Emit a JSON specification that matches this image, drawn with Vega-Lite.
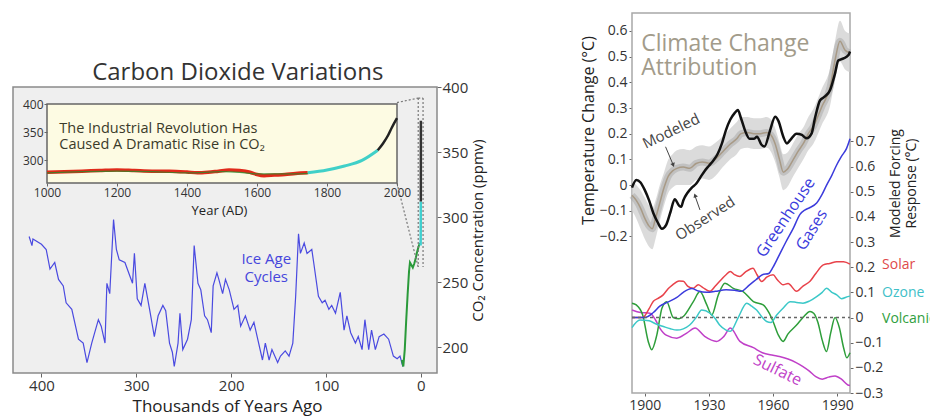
{
  "$schema": "https://vega.github.io/schema/vega-lite/v6.json",
  "width": 930,
  "height": 416,
  "autosize": {"type": "none"},
  "padding": 0,
  "background": "white",
  "config": {
    "view": {"stroke": null},
    "font": "Open Sans",
    "axis": {"grid": false, "domain": false, "labelFont": "Open Sans", "titleFont": "Open Sans", "labelColor": "#333333", "titleColor": "#222222", "tickColor": "#666666", "titleFontWeight": "normal", "labelFlush": false, "labelOverlap": false},
    "text": {"font": "Open Sans"}
  },
  "datasets": {
    "main": [
      {"s":"b","kyr":413,"ppm":285},{"s":"b","kyr":410,"ppm":278},{"s":"b","kyr":409,"ppm":283},{"s":"b","kyr":400,"ppm":279},{"s":"b","kyr":395,"ppm":275},{"s":"b","kyr":391,"ppm":260},{"s":"b","kyr":386,"ppm":265},{"s":"b","kyr":382,"ppm":252},{"s":"b","kyr":377,"ppm":247},{"s":"b","kyr":374,"ppm":234},{"s":"b","kyr":368,"ppm":229},{"s":"b","kyr":361,"ppm":206},{"s":"b","kyr":356,"ppm":203},{"s":"b","kyr":352,"ppm":188},{"s":"b","kyr":347,"ppm":203},{"s":"b","kyr":340,"ppm":221},{"s":"b","kyr":337,"ppm":216},{"s":"b","kyr":333,"ppm":203},{"s":"b","kyr":331,"ppm":249},{"s":"b","kyr":328,"ppm":241},{"s":"b","kyr":324,"ppm":298},{"s":"b","kyr":321,"ppm":275},{"s":"b","kyr":318,"ppm":267},{"s":"b","kyr":312,"ppm":265},{"s":"b","kyr":307,"ppm":255},{"s":"b","kyr":304,"ppm":249},{"s":"b","kyr":302,"ppm":272},{"s":"b","kyr":299,"ppm":237},{"s":"b","kyr":295,"ppm":232},{"s":"b","kyr":291,"ppm":249},{"s":"b","kyr":286,"ppm":229},{"s":"b","kyr":281,"ppm":208},{"s":"b","kyr":277,"ppm":224},{"s":"b","kyr":272,"ppm":232},{"s":"b","kyr":269,"ppm":228},{"s":"b","kyr":265,"ppm":203},{"s":"b","kyr":262,"ppm":196},{"s":"b","kyr":260,"ppm":185},{"s":"b","kyr":256,"ppm":203},{"s":"b","kyr":254,"ppm":226},{"s":"b","kyr":251,"ppm":198},{"s":"b","kyr":246,"ppm":206},{"s":"b","kyr":242,"ppm":221},{"s":"b","kyr":239,"ppm":278},{"s":"b","kyr":235,"ppm":249},{"s":"b","kyr":232,"ppm":244},{"s":"b","kyr":228,"ppm":224},{"s":"b","kyr":225,"ppm":221},{"s":"b","kyr":221,"ppm":211},{"s":"b","kyr":219,"ppm":247},{"s":"b","kyr":215,"ppm":257},{"s":"b","kyr":213,"ppm":252},{"s":"b","kyr":209,"ppm":241},{"s":"b","kyr":206,"ppm":252},{"s":"b","kyr":202,"ppm":244},{"s":"b","kyr":197,"ppm":229},{"s":"b","kyr":193,"ppm":232},{"s":"b","kyr":190,"ppm":216},{"s":"b","kyr":185,"ppm":224},{"s":"b","kyr":180,"ppm":213},{"s":"b","kyr":176,"ppm":219},{"s":"b","kyr":172,"ppm":206},{"s":"b","kyr":167,"ppm":190},{"s":"b","kyr":164,"ppm":203},{"s":"b","kyr":160,"ppm":190},{"s":"b","kyr":157,"ppm":198},{"s":"b","kyr":151,"ppm":188},{"s":"b","kyr":148,"ppm":193},{"s":"b","kyr":143,"ppm":197},{"s":"b","kyr":139,"ppm":193},{"s":"b","kyr":135,"ppm":203},{"s":"b","kyr":132,"ppm":239},{"s":"b","kyr":129,"ppm":287},{"s":"b","kyr":127,"ppm":272},{"s":"b","kyr":123,"ppm":280},{"s":"b","kyr":120,"ppm":272},{"s":"b","kyr":115,"ppm":275},{"s":"b","kyr":113,"ppm":265},{"s":"b","kyr":108,"ppm":239},{"s":"b","kyr":104,"ppm":234},{"s":"b","kyr":101,"ppm":236},{"s":"b","kyr":97,"ppm":229},{"s":"b","kyr":94,"ppm":232},{"s":"b","kyr":90,"ppm":226},{"s":"b","kyr":85,"ppm":242},{"s":"b","kyr":81,"ppm":213},{"s":"b","kyr":78,"ppm":224},{"s":"b","kyr":74,"ppm":211},{"s":"b","kyr":69,"ppm":203},{"s":"b","kyr":66,"ppm":208},{"s":"b","kyr":62,"ppm":198},{"s":"b","kyr":59,"ppm":221},{"s":"b","kyr":55,"ppm":198},{"s":"b","kyr":52,"ppm":213},{"s":"b","kyr":48,"ppm":198},{"s":"b","kyr":44,"ppm":208},{"s":"b","kyr":39,"ppm":210},{"s":"b","kyr":34,"ppm":206},{"s":"b","kyr":29,"ppm":193},{"s":"b","kyr":25,"ppm":191},{"s":"b","kyr":22,"ppm":193},{"s":"b","kyr":19,"ppm":185},
      {"s":"g","kyr":20,"ppm":190},{"s":"g","kyr":18.5,"ppm":185},{"s":"g","kyr":17,"ppm":198},{"s":"g","kyr":15.5,"ppm":220},{"s":"g","kyr":14,"ppm":240},{"s":"g","kyr":12.5,"ppm":258},{"s":"g","kyr":11.5,"ppm":265},{"s":"g","kyr":10,"ppm":263},{"s":"g","kyr":8.5,"ppm":261},{"s":"g","kyr":7,"ppm":264},{"s":"g","kyr":5.5,"ppm":268},{"s":"g","kyr":4,"ppm":273},{"s":"g","kyr":2.5,"ppm":277},{"s":"g","kyr":1,"ppm":280},
      {"s":"c","kyr":0.25,"ppm":278},{"s":"c","kyr":0.15,"ppm":290},{"s":"c","kyr":0.07,"ppm":312},
      {"s":"k","kyr":0.07,"ppm":312},{"s":"k","kyr":0.04,"ppm":330},{"s":"k","kyr":0.0,"ppm":374}
    ],
    "inset": [
      {"s":"g","year":1000,"ppm":278},{"s":"g","year":1100,"ppm":280},{"s":"g","year":1200,"ppm":281},{"s":"g","year":1300,"ppm":280},{"s":"g","year":1400,"ppm":278},{"s":"g","year":1500,"ppm":280},{"s":"g","year":1550,"ppm":279},{"s":"g","year":1600,"ppm":276},{"s":"g","year":1700,"ppm":276},{"s":"g","year":1750,"ppm":277},
      {"s":"r","year":1000,"ppm":279},{"s":"r","year":1050,"ppm":280},{"s":"r","year":1100,"ppm":281},{"s":"r","year":1150,"ppm":282},{"s":"r","year":1200,"ppm":283},{"s":"r","year":1250,"ppm":282},{"s":"r","year":1300,"ppm":281},{"s":"r","year":1350,"ppm":281},{"s":"r","year":1400,"ppm":279.5},{"s":"r","year":1430,"ppm":278},{"s":"r","year":1460,"ppm":279},{"s":"r","year":1490,"ppm":281},{"s":"r","year":1520,"ppm":283},{"s":"r","year":1550,"ppm":282},{"s":"r","year":1580,"ppm":279},{"s":"r","year":1600,"ppm":275},{"s":"r","year":1620,"ppm":273},{"s":"r","year":1650,"ppm":274},{"s":"r","year":1680,"ppm":275},{"s":"r","year":1710,"ppm":277},{"s":"r","year":1745,"ppm":278},
      {"s":"c","year":1745,"ppm":278},{"s":"c","year":1800,"ppm":283},{"s":"c","year":1850,"ppm":290},{"s":"c","year":1900,"ppm":300},{"s":"c","year":1945,"ppm":318},
      {"s":"k","year":1945,"ppm":318},{"s":"k","year":1960,"ppm":330},{"s":"k","year":1975,"ppm":345},{"s":"k","year":1985,"ppm":358},{"s":"k","year":2000,"ppm":375}
    ],
    "obs": [
      {"year":1894,"t":-0.01},{"year":1896,"t":0.02},{"year":1898,"t":0.01},{"year":1900,"t":-0.02},{"year":1902,"t":-0.06},{"year":1904,"t":-0.11},{"year":1906,"t":-0.145},{"year":1908,"t":-0.17},{"year":1910,"t":-0.155},{"year":1912,"t":-0.105},{"year":1914,"t":-0.055},{"year":1916,"t":-0.08},{"year":1917,"t":-0.085},{"year":1918,"t":-0.06},{"year":1920,"t":-0.03},{"year":1922,"t":-0.01},{"year":1924,"t":0.005},{"year":1926,"t":0.03},{"year":1928,"t":0.055},{"year":1930,"t":0.075},{"year":1932,"t":0.095},{"year":1934,"t":0.12},{"year":1936,"t":0.16},{"year":1938,"t":0.215},{"year":1940,"t":0.255},{"year":1942,"t":0.28},{"year":1943.5,"t":0.292},{"year":1945,"t":0.26},{"year":1947,"t":0.21},{"year":1949,"t":0.18},{"year":1951,"t":0.18},{"year":1952.5,"t":0.188},{"year":1954.5,"t":0.158},{"year":1956,"t":0.15},{"year":1958.5,"t":0.21},{"year":1961,"t":0.266},{"year":1962.5,"t":0.25},{"year":1964.8,"t":0.188},{"year":1966.5,"t":0.162},{"year":1968,"t":0.175},{"year":1971,"t":0.2},{"year":1973.5,"t":0.195},{"year":1975.7,"t":0.182},{"year":1978,"t":0.2},{"year":1979.6,"t":0.26},{"year":1982,"t":0.33},{"year":1984.3,"t":0.345},{"year":1986.7,"t":0.37},{"year":1989,"t":0.435},{"year":1990.5,"t":0.485},{"year":1993,"t":0.493},{"year":1995.3,"t":0.506},{"year":1996,"t":0.52}
    ],
    "mod": [
      {"year":1894,"t":-0.04,"lo":-0.1,"hi":0.02},{"year":1896,"t":-0.06,"lo":-0.13,"hi":0.0},{"year":1898,"t":-0.09,"lo":-0.17,"hi":-0.02},{"year":1900,"t":-0.13,"lo":-0.21,"hi":-0.05},{"year":1902,"t":-0.16,"lo":-0.24,"hi":-0.08},{"year":1903.5,"t":-0.17,"lo":-0.25,"hi":-0.09},{"year":1905,"t":-0.13,"lo":-0.21,"hi":-0.06},{"year":1907,"t":-0.07,"lo":-0.14,"hi":0.0},{"year":1909,"t":-0.01,"lo":-0.08,"hi":0.05},{"year":1911,"t":0.035,"lo":-0.03,"hi":0.1},{"year":1913,"t":0.055,"lo":-0.01,"hi":0.12},{"year":1915,"t":0.065,"lo":0.0,"hi":0.135},{"year":1918,"t":0.07,"lo":0.0,"hi":0.14},{"year":1921,"t":0.065,"lo":0.0,"hi":0.135},{"year":1924,"t":0.084,"lo":0.02,"hi":0.15},{"year":1927,"t":0.09,"lo":0.025,"hi":0.155},{"year":1930,"t":0.085,"lo":0.02,"hi":0.15},{"year":1933,"t":0.1,"lo":0.035,"hi":0.165},{"year":1936.5,"t":0.13,"lo":0.07,"hi":0.19},{"year":1940,"t":0.16,"lo":0.1,"hi":0.22},{"year":1943,"t":0.18,"lo":0.12,"hi":0.245},{"year":1945,"t":0.2,"lo":0.14,"hi":0.265},{"year":1948,"t":0.205,"lo":0.145,"hi":0.265},{"year":1951,"t":0.2,"lo":0.14,"hi":0.26},{"year":1954,"t":0.2,"lo":0.14,"hi":0.26},{"year":1957,"t":0.205,"lo":0.145,"hi":0.265},{"year":1959,"t":0.195,"lo":0.13,"hi":0.255},{"year":1961,"t":0.16,"lo":0.09,"hi":0.22},{"year":1963,"t":0.1,"lo":0.03,"hi":0.165},{"year":1964.8,"t":0.05,"lo":-0.02,"hi":0.12},{"year":1966.5,"t":0.06,"lo":-0.01,"hi":0.125},{"year":1969.5,"t":0.1,"lo":0.035,"hi":0.165},{"year":1972,"t":0.135,"lo":0.07,"hi":0.2},{"year":1974.2,"t":0.162,"lo":0.1,"hi":0.225},{"year":1976.5,"t":0.2,"lo":0.135,"hi":0.265},{"year":1978.8,"t":0.227,"lo":0.16,"hi":0.295},{"year":1982.8,"t":0.305,"lo":0.235,"hi":0.375},{"year":1986.7,"t":0.382,"lo":0.31,"hi":0.455},{"year":1989,"t":0.486,"lo":0.41,"hi":0.56},{"year":1991.3,"t":0.56,"lo":0.48,"hi":0.64},{"year":1993.7,"t":0.525,"lo":0.45,"hi":0.6},{"year":1996,"t":0.515,"lo":0.44,"hi":0.59}
    ],
    "forcing": [
      {"s":"Sulfate","year":1894,"f":0.03},{"s":"Sulfate","year":1898,"f":0.02},{"s":"Sulfate","year":1902.4,"f":0.017},{"s":"Sulfate","year":1905,"f":-0.01},{"s":"Sulfate","year":1907,"f":-0.042},{"s":"Sulfate","year":1910,"f":-0.07},{"s":"Sulfate","year":1915,"f":-0.082},{"s":"Sulfate","year":1919.6,"f":-0.062},{"s":"Sulfate","year":1923.5,"f":-0.042},{"s":"Sulfate","year":1928,"f":-0.075},{"s":"Sulfate","year":1933.6,"f":-0.095},{"s":"Sulfate","year":1937,"f":-0.075},{"s":"Sulfate","year":1940,"f":-0.042},{"s":"Sulfate","year":1944.5,"f":-0.095},{"s":"Sulfate","year":1950.8,"f":-0.12},{"s":"Sulfate","year":1955,"f":-0.14},{"s":"Sulfate","year":1960,"f":-0.15},{"s":"Sulfate","year":1963,"f":-0.155},{"s":"Sulfate","year":1967,"f":-0.165},{"s":"Sulfate","year":1971,"f":-0.18},{"s":"Sulfate","year":1974,"f":-0.195},{"s":"Sulfate","year":1977,"f":-0.213},{"s":"Sulfate","year":1980,"f":-0.235},{"s":"Sulfate","year":1983,"f":-0.245},{"s":"Sulfate","year":1986,"f":-0.237},{"s":"Sulfate","year":1989,"f":-0.232},{"s":"Sulfate","year":1992,"f":-0.245},{"s":"Sulfate","year":1995,"f":-0.268},{"s":"Sulfate","year":1996,"f":-0.27},
      {"s":"Volcanic","year":1894,"f":0.057},{"s":"Volcanic","year":1896,"f":0.05},{"s":"Volcanic","year":1899,"f":0.01},{"s":"Volcanic","year":1901.6,"f":-0.095},{"s":"Volcanic","year":1903.2,"f":-0.128},{"s":"Volcanic","year":1905.6,"f":-0.07},{"s":"Volcanic","year":1908,"f":0.037},{"s":"Volcanic","year":1910.2,"f":0.063},{"s":"Volcanic","year":1913.3,"f":0.0},{"s":"Volcanic","year":1916,"f":-0.005},{"s":"Volcanic","year":1918,"f":0.004},{"s":"Volcanic","year":1922.7,"f":0.063},{"s":"Volcanic","year":1925.8,"f":0.103},{"s":"Volcanic","year":1929,"f":0.05},{"s":"Volcanic","year":1931.3,"f":0.01},{"s":"Volcanic","year":1934.4,"f":0.09},{"s":"Volcanic","year":1937.5,"f":0.136},{"s":"Volcanic","year":1941.4,"f":0.116},{"s":"Volcanic","year":1946,"f":0.103},{"s":"Volcanic","year":1950.8,"f":0.063},{"s":"Volcanic","year":1955.4,"f":0.05},{"s":"Volcanic","year":1958,"f":0.02},{"s":"Volcanic","year":1960,"f":-0.016},{"s":"Volcanic","year":1962.5,"f":-0.07},{"s":"Volcanic","year":1964.7,"f":-0.095},{"s":"Volcanic","year":1967,"f":-0.065},{"s":"Volcanic","year":1971,"f":-0.03},{"s":"Volcanic","year":1974,"f":0.0},{"s":"Volcanic","year":1977.3,"f":0.024},{"s":"Volcanic","year":1979,"f":0.017},{"s":"Volcanic","year":1981,"f":-0.02},{"s":"Volcanic","year":1983,"f":-0.09},{"s":"Volcanic","year":1985,"f":-0.135},{"s":"Volcanic","year":1987,"f":-0.06},{"s":"Volcanic","year":1989,"f":0.0},{"s":"Volcanic","year":1991,"f":-0.04},{"s":"Volcanic","year":1993,"f":-0.12},{"s":"Volcanic","year":1994.5,"f":-0.16},{"s":"Volcanic","year":1996,"f":-0.14},
      {"s":"Ozone","year":1894,"f":-0.04},{"s":"Ozone","year":1897.7,"f":-0.01},{"s":"Ozone","year":1902,"f":-0.013},{"s":"Ozone","year":1905,"f":-0.025},{"s":"Ozone","year":1908.7,"f":-0.036},{"s":"Ozone","year":1912,"f":-0.045},{"s":"Ozone","year":1915,"f":-0.05},{"s":"Ozone","year":1918,"f":-0.045},{"s":"Ozone","year":1921,"f":-0.03},{"s":"Ozone","year":1924,"f":0.0},{"s":"Ozone","year":1926.6,"f":0.03},{"s":"Ozone","year":1930.5,"f":0.017},{"s":"Ozone","year":1933,"f":-0.005},{"s":"Ozone","year":1935,"f":-0.03},{"s":"Ozone","year":1938,"f":-0.05},{"s":"Ozone","year":1940,"f":-0.055},{"s":"Ozone","year":1943.7,"f":0.0},{"s":"Ozone","year":1947.7,"f":0.057},{"s":"Ozone","year":1950,"f":0.045},{"s":"Ozone","year":1952.3,"f":0.03},{"s":"Ozone","year":1955,"f":0.0},{"s":"Ozone","year":1957,"f":-0.016},{"s":"Ozone","year":1959,"f":-0.02},{"s":"Ozone","year":1961.7,"f":0.01},{"s":"Ozone","year":1965,"f":0.04},{"s":"Ozone","year":1968,"f":0.063},{"s":"Ozone","year":1971,"f":0.06},{"s":"Ozone","year":1974,"f":0.057},{"s":"Ozone","year":1977,"f":0.065},{"s":"Ozone","year":1980.4,"f":0.083},{"s":"Ozone","year":1983,"f":0.1},{"s":"Ozone","year":1985,"f":0.116},{"s":"Ozone","year":1987.5,"f":0.1},{"s":"Ozone","year":1989.8,"f":0.09},{"s":"Ozone","year":1992,"f":0.075},{"s":"Ozone","year":1995,"f":0.083},{"s":"Ozone","year":1996,"f":0.085},
      {"s":"Solar","year":1894,"f":0.0},{"s":"Solar","year":1899,"f":0.0},{"s":"Solar","year":1902,"f":0.035},{"s":"Solar","year":1904,"f":0.065},{"s":"Solar","year":1906,"f":0.075},{"s":"Solar","year":1908.6,"f":0.09},{"s":"Solar","year":1911,"f":0.115},{"s":"Solar","year":1913,"f":0.13},{"s":"Solar","year":1916,"f":0.145},{"s":"Solar","year":1918,"f":0.144},{"s":"Solar","year":1920,"f":0.125},{"s":"Solar","year":1922.6,"f":0.116},{"s":"Solar","year":1925,"f":0.13},{"s":"Solar","year":1927,"f":0.12},{"s":"Solar","year":1930.5,"f":0.104},{"s":"Solar","year":1933,"f":0.125},{"s":"Solar","year":1935,"f":0.144},{"s":"Solar","year":1938,"f":0.17},{"s":"Solar","year":1940,"f":0.183},{"s":"Solar","year":1942,"f":0.17},{"s":"Solar","year":1944.5,"f":0.163},{"s":"Solar","year":1947,"f":0.18},{"s":"Solar","year":1950.6,"f":0.196},{"s":"Solar","year":1952.5,"f":0.17},{"s":"Solar","year":1954.7,"f":0.143},{"s":"Solar","year":1957,"f":0.16},{"s":"Solar","year":1960,"f":0.17},{"s":"Solar","year":1962,"f":0.15},{"s":"Solar","year":1964.7,"f":0.13},{"s":"Solar","year":1967,"f":0.135},{"s":"Solar","year":1971,"f":0.104},{"s":"Solar","year":1974,"f":0.125},{"s":"Solar","year":1977.3,"f":0.144},{"s":"Solar","year":1980,"f":0.175},{"s":"Solar","year":1983.5,"f":0.209},{"s":"Solar","year":1986.5,"f":0.215},{"s":"Solar","year":1989.8,"f":0.222},{"s":"Solar","year":1993,"f":0.222},{"s":"Solar","year":1996,"f":0.212},
      {"s":"Greenhouse","year":1894,"f":0.0},{"s":"Greenhouse","year":1900,"f":0.0},{"s":"Greenhouse","year":1904,"f":0.02},{"s":"Greenhouse","year":1907,"f":0.045},{"s":"Greenhouse","year":1911,"f":0.062},{"s":"Greenhouse","year":1915,"f":0.08},{"s":"Greenhouse","year":1918,"f":0.1},{"s":"Greenhouse","year":1922,"f":0.115},{"s":"Greenhouse","year":1925,"f":0.105},{"s":"Greenhouse","year":1929,"f":0.1},{"s":"Greenhouse","year":1933,"f":0.104},{"s":"Greenhouse","year":1938,"f":0.11},{"s":"Greenhouse","year":1942,"f":0.108},{"s":"Greenhouse","year":1945,"f":0.104},{"s":"Greenhouse","year":1949,"f":0.13},{"s":"Greenhouse","year":1952,"f":0.15},{"s":"Greenhouse","year":1955,"f":0.17},{"s":"Greenhouse","year":1958,"f":0.175},{"s":"Greenhouse","year":1960,"f":0.2},{"s":"Greenhouse","year":1963,"f":0.25},{"s":"Greenhouse","year":1966,"f":0.3},{"s":"Greenhouse","year":1969.5,"f":0.355},{"s":"Greenhouse","year":1972.6,"f":0.41},{"s":"Greenhouse","year":1975,"f":0.428},{"s":"Greenhouse","year":1977.3,"f":0.437},{"s":"Greenhouse","year":1980.4,"f":0.455},{"s":"Greenhouse","year":1983,"f":0.49},{"s":"Greenhouse","year":1985,"f":0.525},{"s":"Greenhouse","year":1987.5,"f":0.565},{"s":"Greenhouse","year":1989.7,"f":0.605},{"s":"Greenhouse","year":1992,"f":0.64},{"s":"Greenhouse","year":1994.4,"f":0.672},{"s":"Greenhouse","year":1996,"f":0.71}
    ]
  },
  "layer": [
    {
      "layer": [
        {"data": {"values": [{}]}, "mark": {"type": "rect", "fill": "#efefef", "stroke": "#8a8a8a", "strokeWidth": 1.5},
          "encoding": {"x": {"datum": 430}, "x2": {"datum": -17}, "y": {"datum": 180}, "y2": {"datum": 400}}},
        {"data": {"name": "main"}, "transform": [{"filter": "datum.s == 'b'"}], "mark": {"type": "line", "color": "#4a4ae0", "strokeWidth": 1.2},
          "encoding": {
            "x": {"field": "kyr", "type": "quantitative", "scale": {"domain": [-17, 430], "range": [437, 13], "nice": false, "zero": false},
              "axis": {"orient": "bottom", "offset": -43, "values": [400, 300, 200, 100, 0], "title": "Thousands of Years Ago", "titleFontSize": 17, "titleX": 227, "titleY": 33, "titleBaseline": "middle", "titleAlign": "center", "labelFontSize": 15, "tickSize": 4, "labelPadding": 1}},
            "y": {"field": "ppm", "type": "quantitative", "scale": {"domain": [180, 400], "range": [373, 87], "nice": false, "zero": false},
              "axis": {"orient": "right", "offset": -493, "values": [200, 250, 300, 350, 400], "title": "CO₂ Concentration (ppmv)", "titleFontSize": 15, "titleAngle": -90, "titleX": 40, "titleY": 230, "titleBaseline": "middle", "titleAlign": "center", "labelFontSize": 15, "tickSize": 4, "labelPadding": 1}}
          }},
        {"data": {"name": "main"}, "transform": [{"filter": "datum.s == 'g'"}], "mark": {"type": "line", "color": "#2a9a3a", "strokeWidth": 2},
          "encoding": {"x": {"field": "kyr", "type": "quantitative"}, "y": {"field": "ppm", "type": "quantitative"}}},
        {"data": {"name": "main"}, "transform": [{"filter": "datum.s == 'c'"}], "mark": {"type": "line", "color": "#40d0d0", "strokeWidth": 2.5},
          "encoding": {"x": {"field": "kyr", "type": "quantitative"}, "y": {"field": "ppm", "type": "quantitative"}}},
        {"data": {"name": "main"}, "transform": [{"filter": "datum.s == 'k'"}], "mark": {"type": "line", "color": "#333333", "strokeWidth": 2.5},
          "encoding": {"x": {"field": "kyr", "type": "quantitative"}, "y": {"field": "ppm", "type": "quantitative"}}},
        {"data": {"values": [{}]}, "mark": {"type": "rule", "color": "#777777", "strokeWidth": 1.2, "strokeDash": [2, 2]},
          "encoding": {"x": {"datum": 25.2}, "y": {"datum": 388}, "x2": {"datum": 2.8}, "y2": {"datum": 391.5}}},
        {"data": {"values": [{}]}, "mark": {"type": "rule", "color": "#777777", "strokeWidth": 1.2, "strokeDash": [2, 2]},
          "encoding": {"x": {"datum": 25.2}, "y": {"datum": 326}, "x2": {"datum": 2.8}, "y2": {"datum": 261.5}}},
        {"data": {"values": [{}]}, "mark": {"type": "rule", "color": "#777777", "strokeWidth": 1.2, "strokeDash": [2, 2]},
          "encoding": {"x": {"datum": 2.8}, "y": {"datum": 391.5}, "x2": {"datum": 2.8}, "y2": {"datum": 261.5}}},
        {"data": {"values": [{}]}, "mark": {"type": "rule", "color": "#777777", "strokeWidth": 1.2, "strokeDash": [2, 2]},
          "encoding": {"x": {"datum": -2.3}, "y": {"datum": 391.5}, "x2": {"datum": -2.3}, "y2": {"datum": 261.5}}},
        {"data": {"values": [{}]}, "mark": {"type": "rule", "color": "#777777", "strokeWidth": 1.2, "strokeDash": [2, 2]},
          "encoding": {"x": {"datum": 2.8}, "y": {"datum": 391.5}, "x2": {"datum": -2.3}, "y2": {"datum": 391.5}}},
        {"data": {"values": [{}]}, "mark": {"type": "text", "text": "Carbon Dioxide Variations", "fontSize": 24, "color": "#333333", "align": "center", "baseline": "middle"},
          "encoding": {"x": {"datum": 193}, "y": {"datum": 411}}},
        {"data": {"values": [{}]}, "mark": {"type": "text", "text": ["Ice Age", "Cycles"], "fontSize": 15, "lineHeight": 18, "color": "#4646dc", "align": "center", "baseline": "middle"},
          "encoding": {"x": {"datum": 163}, "y": {"datum": 268}}}
      ]
    },
    {
      "layer": [
        {"data": {"values": [{}]}, "mark": {"type": "rect", "fill": "#fdfbe3", "stroke": "#666666", "strokeWidth": 1.5},
          "encoding": {"x": {"datum": 1000}, "x2": {"datum": 2000}, "y": {"datum": 260}, "y2": {"datum": 400}}},
        {"data": {"name": "inset"}, "transform": [{"filter": "datum.s == 'r'"}], "mark": {"type": "line", "color": "#e02a1a", "strokeWidth": 3.5, "interpolate": "monotone"},
          "encoding": {
            "x": {"field": "year", "type": "quantitative", "scale": {"domain": [1000, 2000], "range": [47, 397], "nice": false, "zero": false},
              "axis": {"orient": "bottom", "offset": -233, "zindex": 2, "values": [1000, 1200, 1400, 1600, 1800, 2000], "format": "d", "title": "Year (AD)", "titleFontSize": 13, "titleX": 219, "titleY": 27, "titleBaseline": "middle", "titleAlign": "center", "labelFontSize": 12, "tickSize": 3, "labelPadding": 1}},
            "y": {"field": "ppm", "type": "quantitative", "scale": {"domain": [260, 400], "range": [183, 104], "nice": false, "zero": false},
              "axis": {"orient": "left", "offset": -47, "zindex": 2, "values": [300, 350, 400], "title": null, "labelFontSize": 12, "tickSize": 3, "labelPadding": 1}}
          }},
        {"data": {"name": "inset"}, "transform": [{"filter": "datum.s == 'g'"}], "mark": {"type": "line", "color": "#2a8a2a", "strokeWidth": 1.2, "opacity": 0.8, "interpolate": "monotone"},
          "encoding": {"x": {"field": "year", "type": "quantitative"}, "y": {"field": "ppm", "type": "quantitative"}}},
        {"data": {"name": "inset"}, "transform": [{"filter": "datum.s == 'c'"}], "mark": {"type": "line", "color": "#40d0c8", "strokeWidth": 3, "interpolate": "monotone"},
          "encoding": {"x": {"field": "year", "type": "quantitative"}, "y": {"field": "ppm", "type": "quantitative"}}},
        {"data": {"name": "inset"}, "transform": [{"filter": "datum.s == 'k'"}], "mark": {"type": "line", "color": "#222222", "strokeWidth": 2.5, "interpolate": "monotone"},
          "encoding": {"x": {"field": "year", "type": "quantitative"}, "y": {"field": "ppm", "type": "quantitative"}}},
        {"data": {"values": [{}]}, "mark": {"type": "text", "text": ["The Industrial Revolution Has", "Caused A Dramatic Rise in CO₂"], "fontSize": 14.5, "lineHeight": 16, "color": "#3a3a2a", "align": "left", "baseline": "middle"},
          "encoding": {"x": {"datum": 1035}, "y": {"datum": 355}}}
      ]
    },
    {
      "layer": [
        {"data": {"values": [{}]}, "mark": {"type": "rect", "fill": "white", "stroke": "#a8a8a8", "strokeWidth": 1.5},
          "encoding": {"x": {"datum": 1894}, "x2": {"datum": 1996}, "y": {"datum": -0.81}, "y2": {"datum": 0.67}}},
        {"data": {"name": "mod"}, "mark": {"type": "area", "color": "#cfcfcf", "opacity": 0.75, "interpolate": "monotone"},
          "encoding": {
            "x": {"field": "year", "type": "quantitative", "scale": {"domain": [1894, 1996], "range": [632, 850], "nice": false, "zero": false},
              "axis": {"orient": "bottom", "offset": -23, "values": [1900, 1930, 1960, 1990], "format": "d", "title": null, "labelFontSize": 14, "tickSize": 3, "labelPadding": 2}},
            "y": {"field": "lo", "type": "quantitative", "scale": {"domain": [-0.81, 0.67], "range": [393, 13], "nice": false, "zero": false},
              "axis": {"orient": "left", "offset": -632, "values": [-0.2, -0.1, 0, 0.1, 0.2, 0.3, 0.4, 0.5, 0.6], "format": ".1~f", "title": "Temperature Change (°C)", "titleFontSize": 16, "titleAngle": -90, "titleX": -44, "titleY": 130, "titleBaseline": "middle", "titleAlign": "center", "labelFontSize": 14, "tickSize": 3, "labelPadding": 2}},
            "y2": {"field": "hi"}
          }},
        {"data": {"name": "mod"}, "mark": {"type": "line", "color": "#9a9a9a", "strokeWidth": 7, "opacity": 0.4, "interpolate": "monotone"},
          "encoding": {"x": {"field": "year", "type": "quantitative"}, "y": {"field": "t", "type": "quantitative"}}},
        {"data": {"name": "mod"}, "mark": {"type": "line", "color": "#a89a86", "strokeWidth": 1.5, "interpolate": "monotone"},
          "encoding": {"x": {"field": "year", "type": "quantitative"}, "y": {"field": "t", "type": "quantitative"}}},
        {"data": {"name": "obs"}, "mark": {"type": "line", "color": "#111111", "strokeWidth": 2.5, "interpolate": "monotone"},
          "encoding": {"x": {"field": "year", "type": "quantitative"}, "y": {"field": "t", "type": "quantitative"}}},
        {"data": {"values": [{}]}, "mark": {"type": "text", "text": ["Climate Change", "Attribution"], "fontSize": 23, "lineHeight": 24, "color": "#a29b8a", "align": "left", "baseline": "middle"},
          "encoding": {"x": {"datum": 1898.3}, "y": {"datum": 0.55}}},
        {"data": {"values": [{}]}, "mark": {"type": "text", "text": "Modeled", "fontSize": 15, "color": "#444444", "angle": -26, "align": "center", "baseline": "middle"},
          "encoding": {"x": {"datum": 1912.3}, "y": {"datum": 0.21}}},
        {"data": {"values": [{}]}, "mark": {"type": "text", "text": "Observed", "fontSize": 15, "color": "#444444", "angle": -33, "align": "center", "baseline": "middle"},
          "encoding": {"x": {"datum": 1928.2}, "y": {"datum": -0.13}}},
        {"data": {"values": [{}]}, "mark": {"type": "rule", "color": "#444444", "strokeWidth": 1},
          "encoding": {"x": {"datum": 1909.7}, "y": {"datum": 0.149}, "x2": {"datum": 1913.2}, "y2": {"datum": 0.08}}},
        {"data": {"values": [{}]}, "mark": {"type": "point", "shape": "triangle-down", "filled": true, "size": 22, "color": "#444444", "opacity": 1, "angle": -20},
          "encoding": {"x": {"datum": 1913.3}, "y": {"datum": 0.078}}},
        {"data": {"values": [{}]}, "mark": {"type": "rule", "color": "#444444", "strokeWidth": 1},
          "encoding": {"x": {"datum": 1925.8}, "y": {"datum": -0.097}, "x2": {"datum": 1923.6}, "y2": {"datum": -0.045}}},
        {"data": {"values": [{}]}, "mark": {"type": "point", "shape": "triangle-up", "filled": true, "size": 22, "color": "#444444", "opacity": 1, "angle": -20},
          "encoding": {"x": {"datum": 1923.5}, "y": {"datum": -0.04}}}
      ]
    },
    {
      "layer": [
        {"data": {"name": "forcing"}, "mark": {"type": "line", "strokeWidth": 1.5, "interpolate": "monotone"},
          "encoding": {
            "x": {"field": "year", "type": "quantitative", "scale": {"domain": [1894, 1996], "range": [632, 850], "nice": false, "zero": false}, "axis": null},
            "y": {"field": "f", "type": "quantitative", "scale": {"domain": [-0.3, 1.21], "range": [393, 13], "nice": false, "zero": false},
              "axis": {"orient": "right", "offset": -80, "values": [-0.3, -0.2, -0.1, 0, 0.1, 0.2, 0.3, 0.4, 0.5, 0.6, 0.7], "format": ".1~f", "title": ["Modeled Forcing", "Response (°C)"], "titleFontSize": 14, "titleLineHeight": 16, "titleAngle": -90, "titleX": 45, "titleY": 183, "titleBaseline": "middle", "titleAlign": "center", "labelFontSize": 14, "tickSize": 3, "labelPadding": 2}},
            "color": {"field": "s", "type": "nominal", "legend": null, "scale": {"domain": ["Greenhouse", "Solar", "Ozone", "Volcanic", "Sulfate"], "range": ["#3b3bdc", "#e8424a", "#3cc8c8", "#2e9e3a", "#c040c8"]}}
          }},
        {"data": {"values": [{}]}, "mark": {"type": "rule", "color": "#666666", "strokeWidth": 1.5, "strokeDash": [3, 3]},
          "encoding": {"x": {"datum": 1894, "axis": null}, "x2": {"datum": 1996}, "y": {"datum": 0}}},
        {"data": {"values": [{}]}, "mark": {"type": "text", "text": "Greenhouse", "fontSize": 16, "color": "#3b3bdc", "angle": -56, "align": "center", "baseline": "middle"},
          "encoding": {"x": {"datum": 1965.9, "axis": null}, "y": {"datum": 0.397}}},
        {"data": {"values": [{}]}, "mark": {"type": "text", "text": "Gases", "fontSize": 16, "color": "#3b3bdc", "angle": -58, "align": "center", "baseline": "middle"},
          "encoding": {"x": {"datum": 1978.1, "axis": null}, "y": {"datum": 0.348}}},
        {"data": {"values": [{}]}, "mark": {"type": "text", "text": "Sulfate", "fontSize": 16, "color": "#c040c8", "angle": 26, "align": "center", "baseline": "middle"},
          "encoding": {"x": {"datum": 1962.1, "axis": null}, "y": {"datum": -0.209}}},
        {"data": {"values": [{}]}, "mark": {"type": "text", "text": "Solar", "fontSize": 14, "color": "#e04a4a", "align": "left", "baseline": "middle"},
          "encoding": {"x": {"datum": 2011, "axis": null}, "y": {"datum": 0.207}}},
        {"data": {"values": [{}]}, "mark": {"type": "text", "text": "Ozone", "fontSize": 14, "color": "#40c0c8", "align": "left", "baseline": "middle"},
          "encoding": {"x": {"datum": 2011, "axis": null}, "y": {"datum": 0.097}}},
        {"data": {"values": [{}]}, "mark": {"type": "text", "text": "Volcanic", "fontSize": 14, "color": "#30a040", "align": "left", "baseline": "middle"},
          "encoding": {"x": {"datum": 2011, "axis": null}, "y": {"datum": -0.005}}}
      ]
    }
  ],
  "resolve": {"scale": {"x": "independent", "y": "independent"}, "axis": {"x": "independent", "y": "independent"}}
}
